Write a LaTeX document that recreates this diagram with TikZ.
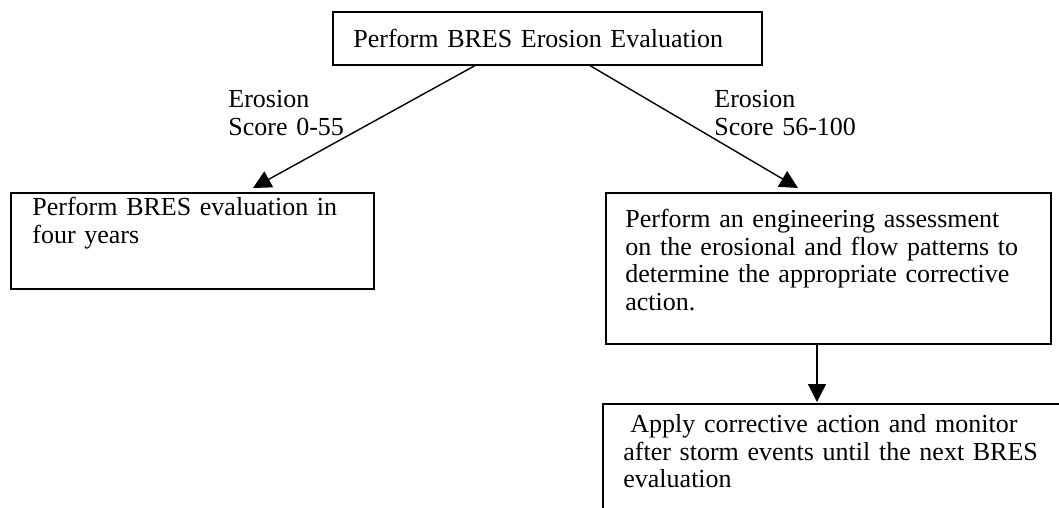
\documentclass[tikz,border=0pt]{standalone}
\usepackage{fontspec}
\setmainfont{Liberation Serif}
\usetikzlibrary{arrows.meta,calc}
\begin{document}
\begin{tikzpicture}[x=0.5pt,y=-0.5pt,
  box/.style={draw, line width=0.8pt, inner sep=0pt, anchor=north west},
  txt/.style={inner sep=0pt, anchor=north west, align=left, text width=240pt,
    font=\fontsize{13}{13.9}\selectfont, execute at begin node=\strut},
  arr/.style={line width=0.7pt, -{Triangle[length=9pt,width=9pt]}}]
\useasboundingbox (0,0) rectangle (1059,508);
\clip (0,0) rectangle (1059,508);
% boxes
\node[box, minimum width=214.5pt, minimum height=26.5pt] (topbox) at (332,11) {};
\node[box, minimum width=181.5pt, minimum height=48pt] (leftbox) at (10,192) {};
\node[box, minimum width=222.5pt, minimum height=75.5pt] (rightbox) at (605,192) {};
\node[box, minimum width=260pt, minimum height=80pt] (bottombox) at (602,403) {};
% texts
\node[txt] (toptext) at (353,27.5) {Perform BRES Erosion Evaluation};
\node[txt] (lefttext) at (32,195.5) {Perform BRES evaluation in\\four years};
\node[txt] (righttext) at (625,207.5) {Perform an engineering assessment\\on the erosional and flow patterns to\\determine the appropriate corrective\\action.};
\node[txt] (bottomtext) at (623,412.5) {\hspace*{3.5pt}Apply corrective action and monitor\\after storm events until the next BRES\\evaluation};
% labels
\node[txt] (lowlabel) at (228,87.5) {Erosion\\Score 0-55};
\node[txt] (highlabel) at (714,87.5) {Erosion\\Score 56-100};
% connectors
\draw[arr] ($(topbox.south west)+(143,0)$) -- ($(leftbox.north west)+(243,-4)$);
\draw[arr] ($(topbox.south west)+(258,0)$) -- ($(rightbox.north west)+(193,-4)$);
\draw[arr] ($(rightbox.south west)+(212,0)$) -- ($(bottombox.north west)+(215,-1)$);
\end{tikzpicture}
\end{document}
